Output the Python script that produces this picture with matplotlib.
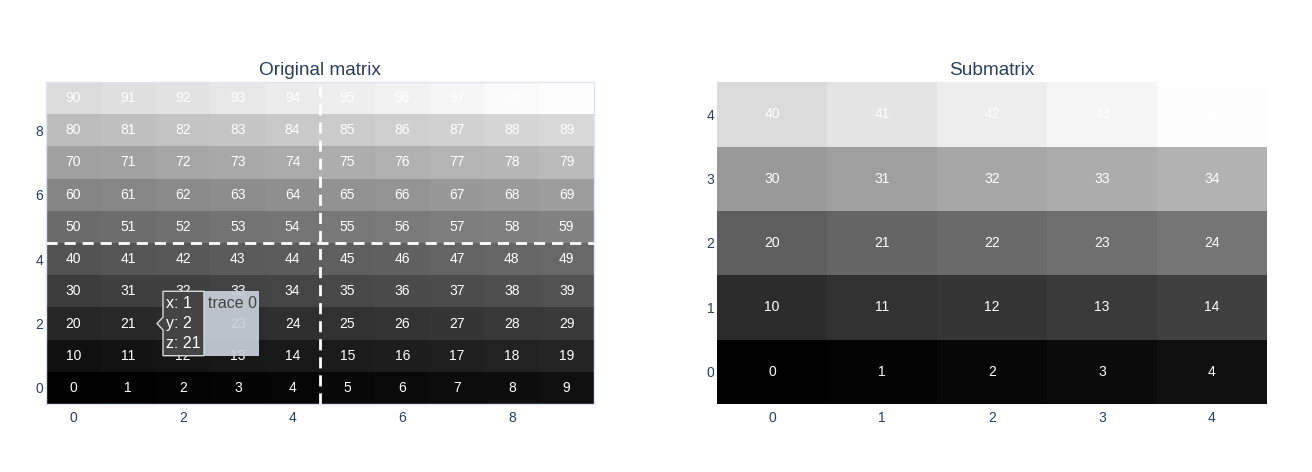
import numpy as np
import matplotlib.pyplot as plt
from matplotlib.colors import LinearSegmentedColormap
from matplotlib.patches import Rectangle, Polygon

# data
matrix = np.arange(100).reshape(10, 10)
submatrix = matrix[:5, :5]
left_ticks = [0, 2, 4, 6, 8]
right_ticks = [0, 1, 2, 3, 4]
split_at = 4.5
hover_x, hover_y = 1, 2

plt.rcParams['font.family'] = ['Liberation Sans', 'DejaVu Sans']
title_col = '#2a3f5f'

# grey scale, a bit darker in the middle than a straight ramp
grey_levels = [0, 17, 38, 60, 83, 106, 131, 158, 186, 216, 253]
cmap = LinearSegmentedColormap.from_list(
    'greys', [(g / 255, g / 255, g / 255) for g in grey_levels])

W, H = 1312, 472
fig = plt.figure(figsize=(W / 100, H / 100), dpi=100)

def px_axes(x0, y0, x1, y1):
    return fig.add_axes([x0 / W, 1 - y1 / H, (x1 - x0) / W, (y1 - y0) / H])

def heat(ax, z, ticks, title):
    n = z.shape[0]
    ax.imshow(z, cmap=cmap, origin='lower', aspect='auto',
              vmin=z.min(), vmax=z.max(),
              extent=(-0.5, n - 0.5, -0.5, n - 0.5), interpolation='nearest')
    for i in range(n):
        for j in range(n):
            ax.text(j, i, str(z[i, j]), ha='center', va='center',
                    color='white', fontsize=10)
    ax.set_xticks(ticks)
    ax.set_yticks(ticks)
    ax.tick_params(length=0, labelsize=10, labelcolor=title_col)
    ax.tick_params(axis='x', pad=5)
    ax.tick_params(axis='y', pad=2)
    ax.set_title(title, fontsize=13.7, color=title_col, pad=5)
    ax.set_xlim(-0.5, n - 0.5)
    ax.set_ylim(-0.5, n - 0.5)

ax1 = px_axes(46, 82, 594, 404)
heat(ax1, matrix, left_ticks, 'Original matrix')
for s in ax1.spines.values():
    s.set_color('#dfe4f2')
    s.set_linewidth(1)
ax1.axvline(split_at, color='white', lw=2, ls=(0, (4, 2.5)))
ax1.axhline(split_at, color='white', lw=2, ls=(0, (4, 2.5)))

ax2 = px_axes(717, 82, 1267, 404)
heat(ax2, submatrix, right_ticks, 'Submatrix')
for s in ax2.spines.values():
    s.set_visible(False)

# hover label
bx0, bx1, bx2 = hover_x + 0.635, hover_x + 1.383, hover_x + 2.387
by0, by1 = hover_y - 1.0, hover_y + 1.0
ax1.add_patch(Rectangle((bx1, by0), bx2 - bx1, by1 - by0,
                        facecolor='#c9d0da', alpha=0.92, edgecolor='none', zorder=5))
ax1.text(bx1 + 0.08, by1 - 0.38, 'trace 0', color='#444444', fontsize=11.5,
         ha='left', va='center', zorder=6)
ax1.add_patch(Polygon([(bx0, by0), (bx1, by0), (bx1, by1), (bx0, by1),
                       (bx0, hover_y + 0.2), (hover_x + 0.526, hover_y),
                       (bx0, hover_y - 0.2)], closed=True,
                      facecolor='#444444', edgecolor='#d8d8d8', lw=1, zorder=5))
for k, line in enumerate(['x: %d' % hover_x, 'y: %d' % hover_y,
                          'z: %d' % matrix[hover_y, hover_x]]):
    ax1.text(bx0 + 0.06, by1 - 0.38 - k * 0.62, line, color='white',
             fontsize=11.5, ha='left', va='center', zorder=6)

fig.savefig('out.png', dpi=100)
